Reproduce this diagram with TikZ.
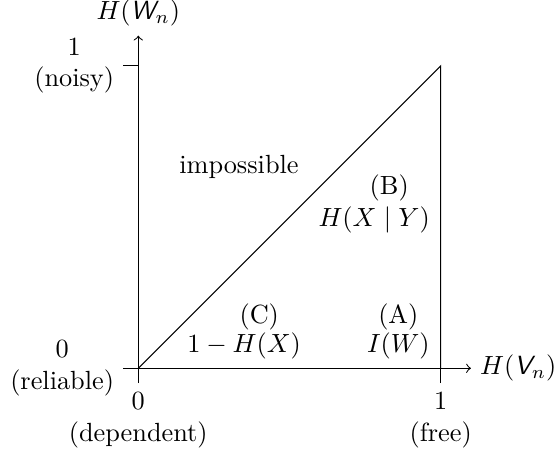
\documentclass[tikz,border=0pt]{standalone}
\usepackage{amsmath}
\usepackage{tikz}
\usetikzlibrary{positioning}
\newcommand{\Wn}{\textsf{\slshape W}_n}
\newcommand{\Vn}{\textsf{\slshape V}_n}

\begin{document}
\begin{tikzpicture}[x=4.043cm, y=4.043cm,
  axislabel/.style={align=center},
  region/.style={inner sep=1pt}]
\useasboundingbox (-1.849cm,-1.173cm) rectangle (5.585cm,4.924cm);
\coordinate (O) at (0,0);
\coordinate (X1) at (1,0);
\coordinate (Y1) at (0,1);
\coordinate (T) at (1,1);
\coordinate (xtip) at (1.1,0);
\coordinate (ytip) at (0,1.1);
\coordinate (Otx) at ([yshift=-0.2cm]O);
\coordinate (Oty) at ([xshift=-0.2cm]O);
\coordinate (X1t) at ([yshift=-0.2cm]X1);
\coordinate (Y1t) at ([xshift=-0.2cm]Y1);
\draw (Otx) -- (O);
\draw (Oty) -- (O);
\draw (X1t) -- (X1);
\draw (Y1t) -- (Y1);
\draw[->] (O) -- (xtip);
\draw[->] (O) -- (ytip);
\draw (O) -- (T) -- (X1);
\node[anchor=west] (xname) at (xtip) {$H(\Vn)$};
\node[anchor=south] (yname) at (ytip) {$H(\Wn)$};
\node[axislabel, anchor=north] (x0) at (Otx) {$0$\\(dependent)};
\node[axislabel, anchor=north] (x1) at (X1t) {$1$\\(free)};
\node[axislabel, anchor=east] (y0) at (Oty) {$0$\\(reliable)};
\node[axislabel, anchor=east] (y1) at (Y1t) {$1$\\(noisy)};
\node[region] (imp) at (0.333,0.667) {impossible};
\node[region] (tagB) at (0.83,0.595) {(B)};
\node[region] (exprB) at (0.78,0.49) {$H(X \mid Y)$};
\node[region] (tagC) at (0.40,0.17) {(C)};
\node[region] (exprC) at (0.35,0.075) {$1 - H(X)$};
\node[region] (tagA) at (0.86,0.17) {(A)};
\node[region] (exprA) at (0.86,0.075) {$I(W)$};
\end{tikzpicture}
\end{document}
